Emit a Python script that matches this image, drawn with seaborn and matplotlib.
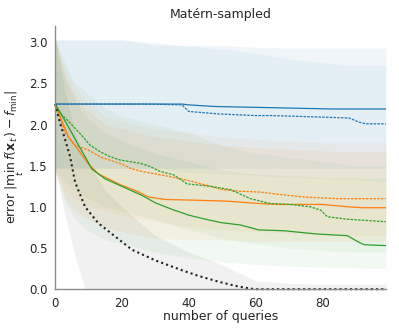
import matplotlib
matplotlib.use("Agg")
import matplotlib.pyplot as plt
import seaborn as sns

# colours of the four methods (tab10) + baseline
BLUE = "#1f77b4"
ORANGE = "#ff7f0e"
GREEN = "#2ca02c"
BLACK = "#222222"

# mean curves
blue_solid_x = [0, 38, 40, 48, 60, 83, 99]
blue_solid_y = [2.25, 2.25, 2.24, 2.22, 2.21, 2.19, 2.19]

blue_dash_x = [0, 27, 38, 40, 43, 49, 60, 65, 81, 88, 91, 93, 99]
blue_dash_y = [2.25, 2.25, 2.24, 2.16, 2.15, 2.13, 2.11, 2.11, 2.09, 2.08, 2.03, 2.01, 2.01]

orange_solid_x = [0, 2, 4, 7, 10, 13, 16.5, 19.5, 24, 28, 33, 43.5, 51.5, 61.5, 67.5, 80, 88, 92, 99]
orange_solid_y = [2.25, 2.05, 1.85, 1.69, 1.52, 1.4, 1.33, 1.27, 1.2, 1.12, 1.09, 1.08, 1.07, 1.04, 1.03, 1.03, 1.0, 0.99, 0.99]

orange_dash_x = [0, 3, 6, 10, 14, 20, 22.5, 26, 33, 40, 46.5, 50, 55.5, 61.5, 67.5, 74.5, 84.5, 99]
orange_dash_y = [2.25, 1.9, 1.75, 1.69, 1.6, 1.52, 1.47, 1.43, 1.38, 1.32, 1.25, 1.21, 1.19, 1.18, 1.15, 1.12, 1.1, 1.1]

green_solid_x = [0, 2.5, 5, 7, 9, 11, 15, 20, 26, 30, 35, 40, 44, 49.5, 55.5, 61, 68.5, 73.5, 78.5, 87.5, 90.5, 92.5, 99]
green_solid_y = [2.25, 2.08, 1.9, 1.75, 1.61, 1.46, 1.34, 1.25, 1.14, 1.05, 0.97, 0.9, 0.86, 0.81, 0.78, 0.72, 0.71, 0.69, 0.67, 0.65, 0.58, 0.54, 0.53]

green_dash_x = [0, 2, 4.5, 7.5, 10.5, 13.5, 16.5, 19.5, 25.5, 28.5, 31.5, 35.5, 39.5, 46.5, 52.5, 58.5, 64.5, 70.5, 76.5, 79.5, 81.5, 87.5, 99]
green_dash_y = [2.25, 2.12, 2.02, 1.89, 1.75, 1.67, 1.61, 1.57, 1.53, 1.49, 1.43, 1.39, 1.28, 1.25, 1.21, 1.1, 1.04, 1.03, 1.0, 0.96, 0.88, 0.85, 0.82]

black_x = [0, 1.5, 3, 4.5, 6, 7.5, 9, 13, 18, 23, 30, 38, 43, 49, 54, 58, 60, 99]
black_y = [2.25, 2.02, 1.82, 1.61, 1.3, 1.15, 1.0, 0.8, 0.64, 0.48, 0.35, 0.23, 0.16, 0.09, 0.04, 0.01, 0.0, 0.0]

# spread bands (upper / lower), same x grid for all
band_x = [0, 3, 6, 9, 15, 20, 30, 40, 50, 60, 70, 80, 90, 99]
blue_solid_hi = [3.03, 3.03, 3.03, 3.03, 3.03, 3.03, 2.97, 2.96, 2.96, 2.94, 2.93, 2.93, 2.93, 2.93]
blue_solid_lo = [1.47, 1.47, 1.47, 1.47, 1.47, 1.47, 1.47, 1.47, 1.47, 1.47, 1.47, 1.47, 1.47, 1.47]
blue_dash_hi = [3.03, 3.03, 3.03, 3.03, 3.03, 3.03, 3.0, 2.95, 2.92, 2.87, 2.8, 2.75, 2.72, 2.72]
blue_dash_lo = [1.47, 1.47, 1.47, 1.47, 1.47, 1.47, 1.47, 1.42, 1.4, 1.38, 1.36, 1.35, 1.33, 1.3]
orange_solid_hi = [3.05, 2.6, 2.35, 2.2, 2.0, 1.95, 1.85, 1.8, 1.75, 1.72, 1.7, 1.68, 1.67, 1.67]
orange_solid_lo = [1.45, 1.1, 0.95, 0.87, 0.75, 0.7, 0.62, 0.6, 0.6, 0.58, 0.58, 0.58, 0.58, 0.58]
orange_dash_hi = [3.05, 2.7, 2.45, 2.3, 2.1, 2.05, 1.95, 1.9, 1.85, 1.82, 1.8, 1.78, 1.78, 1.78]
orange_dash_lo = [1.45, 1.2, 1.1, 1.02, 0.95, 0.9, 0.82, 0.76, 0.72, 0.7, 0.68, 0.66, 0.65, 0.65]
green_solid_hi = [3.05, 2.55, 2.3, 2.1, 1.9, 1.8, 1.65, 1.55, 1.45, 1.4, 1.38, 1.36, 1.35, 1.35]
green_solid_lo = [1.45, 1.05, 0.85, 0.73, 0.6, 0.55, 0.45, 0.38, 0.33, 0.3, 0.28, 0.27, 0.26, 0.25]
green_dash_hi = [3.05, 2.75, 2.5, 2.4, 2.2, 2.1, 2.0, 1.9, 1.75, 1.65, 1.6, 1.55, 1.5, 1.5]
green_dash_lo = [1.45, 1.3, 1.2, 1.12, 1.0, 0.95, 0.85, 0.72, 0.62, 0.55, 0.5, 0.47, 0.45, 0.45]
black_hi = [3.05, 2.4, 1.9, 1.6, 1.2, 1.0, 0.65, 0.45, 0.3, 0.1, 0.07, 0.06, 0.06, 0.06]
black_lo = [1.45, 0.9, 0.4, 0.0, 0.0, 0.0, 0.0, 0.0, 0.0, 0.0, 0.0, 0.0, 0.0, 0.0]

sns.set_style("white")
plt.rcParams["font.family"] = ["DejaVu Sans"]

fig = plt.figure(figsize=(3.99, 3.32), dpi=100)
ax = fig.add_axes([0.138, 0.129, 0.829, 0.793])

# bands first
bands = [
    (black_hi, black_lo, "black", 0.055),
    (blue_solid_hi, blue_solid_lo, BLUE, 0.07),
    (blue_dash_hi, blue_dash_lo, BLUE, 0.05),
    (orange_solid_hi, orange_solid_lo, ORANGE, 0.07),
    (orange_dash_hi, orange_dash_lo, ORANGE, 0.05),
    (green_solid_hi, green_solid_lo, GREEN, 0.06),
    (green_dash_hi, green_dash_lo, GREEN, 0.05),
]
for hi, lo, col, a in bands:
    ax.fill_between(band_x, lo, hi, color=col, alpha=a, lw=0)

fine_dash = (0, (2, 1))
lines = [
    (blue_solid_x, blue_solid_y, BLUE, "-"),
    (blue_dash_x, blue_dash_y, BLUE, fine_dash),
    (orange_solid_x, orange_solid_y, ORANGE, "-"),
    (orange_dash_x, orange_dash_y, ORANGE, fine_dash),
    (green_solid_x, green_solid_y, GREEN, "-"),
    (green_dash_x, green_dash_y, GREEN, fine_dash),
]
for xs, ys, col, ls in lines:
    sns.lineplot(x=xs, y=ys, color=col, linestyle=ls, lw=0.9, ax=ax)

sns.lineplot(x=black_x, y=black_y, color=BLACK, linestyle=(0, (1, 1.5)),
             lw=1.5, ax=ax, clip_on=False)

ax.set_xlim(0, 99)
ax.set_ylim(0, 3.2)
ax.set_xticks([0, 20, 40, 60, 80])
ax.set_yticks([0.0, 0.5, 1.0, 1.5, 2.0, 2.5, 3.0])
ax.tick_params(labelsize=8.5, colors="0.15", pad=2)
ax.set_xlabel("number of queries", fontsize=9, color="0.15", labelpad=0)
ax.set_ylabel(r"error $|\min_t\, f(\mathbf{x}_t) - f_{\min}|$", fontsize=9, color="0.15", labelpad=2)
ax.set_title("Matérn-sampled", fontsize=9, color="0.15", pad=6)

sns.despine(ax=ax)
for side in ["left", "bottom"]:
    ax.spines[side].set_color("0.55")
    ax.spines[side].set_linewidth(1.0)

fig.savefig("out.png", dpi=100)
